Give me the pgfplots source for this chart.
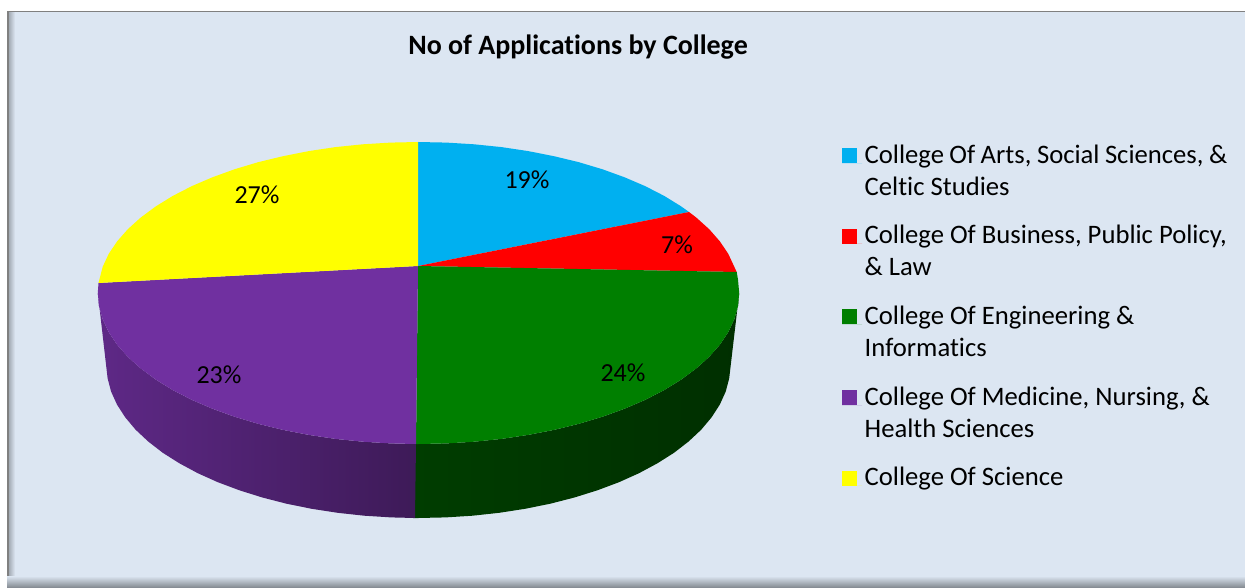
\documentclass[border=0pt]{standalone}
\usepackage{fontspec}
\setmainfont{Carlito}[Ligatures={NoCommon}]
\usepackage{pgfplots}
\pgfplotsset{compat=1.18}

\definecolor{panel}{HTML}{DCE6F2}
\definecolor{edgegray}{HTML}{808080}
\definecolor{c1}{HTML}{00B0F0}
\definecolor{c2}{HTML}{FF0000}
\definecolor{c3}{HTML}{007F00}
\definecolor{c4}{HTML}{7030A0}
\definecolor{c5}{HTML}{FFFF00}

\newcommand{\leg}[1]{\parbox[t]{272pt}{\fontsize{20}{24}\selectfont\strut #1\strut}}
\newcommand{\lab}[1]{\fontsize{19.5}{24}\selectfont #1}

\begin{document}
\begin{tikzpicture}
\begin{axis}[
    width=933.75pt, height=441pt,
    scale only axis,
    xmin=0, xmax=1245, ymin=0, ymax=588,
    y dir=reverse,
    hide axis,
    legend cell align=left,
    legend image code/.code={
      \path[#1] (0pt,0pt) rectangle (11.25pt,11.25pt);
      \path (0pt,0pt) -- (15pt,0pt);
    },
    legend style={
      at={(axis cs:842,138)}, anchor=north west,
      draw=none, fill=none, inner sep=0pt, outer sep=0pt,
      row sep=38.2pt,
      cells={anchor=base west, inner sep=0pt},
    },
    ]
% frame
\addplot[fill=white, draw=none, forget plot] coordinates {(0,0) (1245,0) (1245,588) (0,588)};
\addplot[fill=edgegray, draw=none, forget plot] coordinates {(7,11) (1245,11) (1245,588) (7,588)};
\addplot[fill=panel, draw=none, forget plot] coordinates {(9,12.5) (1245,12.5) (1245,588) (9,588)};
\addplot[left color=black!25!panel, right color=panel, draw=none, forget plot] coordinates {(9,12.5) (15,12.5) (15,588) (9,588)};
\addplot[top color=panel, bottom color=black!42!panel, draw=none, forget plot] coordinates {(7,576) (1245,576) (1245,588) (7,588)};

% sides, green first so the purple overlaps it at the seam
\addplot[left color=c3!48!black, right color=c3!37!black, draw=none, forget plot] coordinates {
 (413,444) (446.5,443.4) (474.2,441.7) (501.5,438.9) (528.2,434.9) (554.0,429.9) (578.9,423.8) (602.5,416.7)
 (624.6,408.7) (645.3,399.8) (664.2,390.1) (681.2,379.6) (696.2,368.5) (709.2,356.8) (719.9,344.7) (728.3,332.1)
 (734.3,319.2) (738.0,306.2) (739.2,293)
 (729.2,378.3) (725.7,391.6) (719.8,404.6) (711.6,417.3) (701.2,429.7) (688.6,441.5) (674.0,452.8) (657.4,463.3)
 (639.0,473.2) (619.0,482.2) (597.4,490.3) (574.4,497.5) (550.3,503.7) (525.1,508.8) (499.2,512.8) (472.6,515.7)
 (445.6,517.4) (418.4,518) (413,518)};
\addplot[left color=c4!84!black, right color=c4!55!black, draw=none, forget plot] coordinates {
 (416,444) (390.5,443.4) (362.8,441.7) (335.5,438.9) (308.8,434.9) (283.0,429.9) (258.1,423.8) (234.5,416.7)
 (212.4,408.7) (191.7,399.8) (172.8,390.1) (155.8,379.6) (140.8,368.5) (127.8,356.8) (117.1,344.7) (108.7,332.1)
 (102.7,319.2) (99.0,306.2) (97.8,293)
 (107.6,378.3) (111.1,391.6) (117,404.6) (125.2,417.3) (135.6,429.7) (148.2,441.5) (162.8,452.8) (179.4,463.3)
 (197.8,473.2) (217.8,482.2) (239.4,490.3) (262.4,497.5) (286.5,503.7) (311.7,508.8) (337.6,512.8) (364.2,515.7)
 (391.2,517.4) (415,518)};

% top faces
\addplot[fill=c1, draw=none] coordinates {
 (418,266) (418,142) (446.5,142.6) (474.2,144.3) (501.5,147.1) (528.2,151.1) (554.0,156.2) (578.9,162.2)
 (602.5,169.3) (624.6,177.3) (645.3,186.2) (664.2,195.9) (681.2,206.4) (689,212)};
\addlegendentry{\leg{College Of Arts, Social Sciences, \&\\Celtic Studies}}
\addplot[fill=c2, draw=none] coordinates {
 (418,266) (689,212) (696.2,217.5) (709.2,229.2) (719.9,241.4) (728.3,253.9) (734.3,266.8) (736.7,272)};
\addlegendentry{\leg{College Of Business, Public Policy,\\\& Law}}
\addplot[fill=c3, draw=none] coordinates {
 (418,266) (736.7,272) (738.0,279.8) (739.2,293) (738.0,306.2) (734.3,319.2) (728.3,332.1) (719.9,344.7)
 (709.2,356.8) (696.2,368.5) (681.2,379.6) (664.2,390.1) (645.3,399.8) (624.6,408.7) (602.5,416.7) (578.9,423.8)
 (554.0,429.9) (528.2,434.9) (501.5,438.9) (474.2,441.7) (446.5,443.4) (418.5,444) (416,444)};
\addlegendentry{\leg{College Of Engineering \&\\Informatics}}
\addplot[fill=c4, draw=none] coordinates {
 (418,266) (416,444) (390.5,443.4) (362.8,441.7) (335.5,438.9) (308.8,434.9) (283.0,429.9) (258.1,423.8)
 (234.5,416.7) (212.4,408.7) (191.7,399.8) (172.8,390.1) (155.8,379.6) (140.8,368.5) (127.8,356.8) (117.1,344.7)
 (108.7,332.1) (102.7,319.2) (99.0,306.2) (97.8,293) (98.5,283)};
\addlegendentry{\leg{College Of Medicine, Nursing, \&\\Health Sciences}}
\addplot[fill=c5, draw=none] coordinates {
 (418,266) (98.5,283) (102.7,266.8) (108.7,253.9) (117.1,241.4) (127.8,229.2) (140.8,217.5) (155.8,206.4)
 (172.8,195.9) (191.7,186.2) (212.4,177.3) (234.5,169.3) (258.1,162.2) (283.0,156.2) (308.8,151.1) (335.5,147.1)
 (362.8,144.3) (390.5,142.6) (418,142)};
\addlegendentry{\leg{College Of Science}}

% labels
\node at (axis cs:527,180) {\lab{19\%}};
\node at (axis cs:677,245) {\lab{7\%}};
\node at (axis cs:623,373) {\lab{24\%}};
\node at (axis cs:219,375) {\lab{23\%}};
\node at (axis cs:257,195) {\lab{27\%}};
\node at (axis cs:578,47) {\fontsize{21}{24}\selectfont\bfseries No of Applications by College};
\end{axis}
\end{tikzpicture}
\end{document}
